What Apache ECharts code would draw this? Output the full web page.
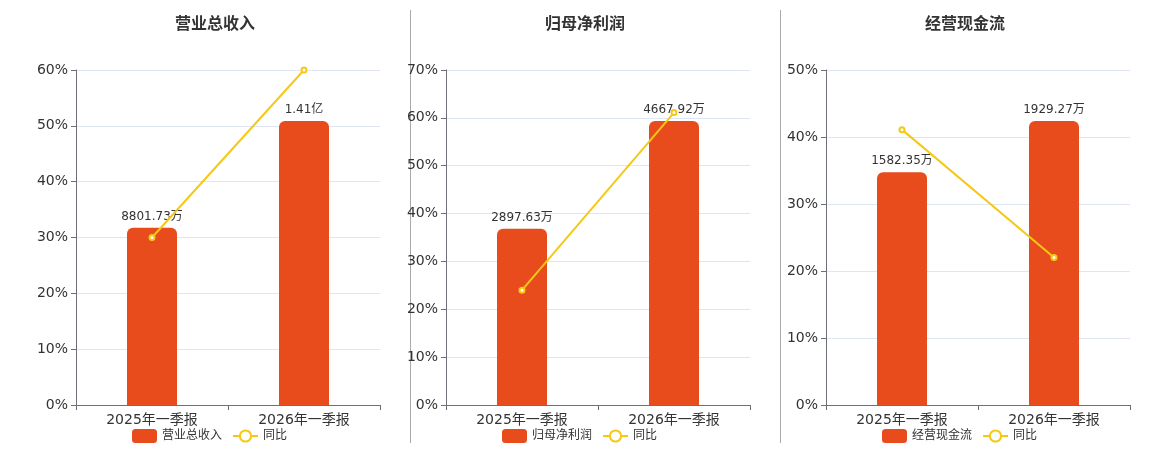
<!DOCTYPE html>
<html>
<head>
<meta charset="utf-8">
<script src="https://cdn.jsdelivr.net/npm/echarts@6/dist/echarts.min.js"></script>
<style>
  html, body { margin: 0; padding: 0; background: #fff; }
  #chart { width: 1160px; height: 450px; }
</style>
</head>
<body>
<div id="chart"></div>
<script>
// 报告期
var periods = ['2025年一季报', '2026年一季报'];
// 三个面板标题
var titles = ['营业总收入', '归母净利润', '经营现金流'];
// 柱子数值(单位:万)
var revenue = [8801.73, 14100];
var netProfit = [2897.63, 4667.92];
var cashFlow = [1582.35, 1929.27];
// 同比(%)
var revenueYoy = [30, 60];
var netProfitYoy = [24, 61.1];
var cashFlowYoy = [41.1, 22];
// 左轴最大值
var yoyMax = [60, 70, 50];

var barColor = '#E84B1C';
var lineColor = '#F5C816';

var barData = [revenue, netProfit, cashFlow];
var lineData = [revenueYoy, netProfitYoy, cashFlowYoy];

// 面板位置
var gridLeft = [76, 446, 826];
var panelCenter = [210, 580, 960];

function fmtAmount(v) {
  if (v >= 10000) return (v / 10000).toFixed(2) + '亿';
  return v.toFixed(2) + '万';
}

var myChart = echarts.init(document.getElementById('chart'));

var title = [], legend = [], grid = [], xAxis = [], yAxis = [], series = [];
titles.forEach(function (name, i) {
  title.push({
    text: name,
    left: panelCenter[i],
    textAlign: 'center',
    top: 12,
    textStyle: { fontSize: 16, fontWeight: 'bold', color: '#333' }
  });
  legend.push({
    data: [name, '同比'],
    left: panelCenter[i] - 83,
    top: 424,
    itemWidth: 25,
    itemHeight: 14,
    itemGap: 10,
    textStyle: { fontSize: 12, color: '#333' }
  });
  grid.push({ left: gridLeft[i], width: 304, top: 70, height: 335 });
  xAxis.push({
    type: 'category',
    gridIndex: i,
    data: periods,
    axisLine: { lineStyle: { color: '#6E7079' } },
    axisTick: { show: true },
    axisLabel: { fontSize: 14, color: '#333', margin: 8 }
  });
  yAxis.push({
    type: 'value',
    gridIndex: i,
    min: 0,
    max: yoyMax[i],
    interval: 10,
    axisLine: { show: true, lineStyle: { color: '#6E7079' } },
    axisTick: { show: true },
    axisLabel: { formatter: '{value}%', fontSize: 14, color: '#333' },
    splitLine: { lineStyle: { color: '#E0E6F1' } }
  });
  yAxis.push({
    type: 'value',
    gridIndex: i,
    min: 0,
    max: function (v) { return v.max * 1.18; },
    show: false,
    splitLine: { show: false }
  });
  series.push({
    name: name,
    type: 'bar',
    xAxisIndex: i,
    yAxisIndex: i * 2 + 1,
    data: barData[i],
    barWidth: 50,
    itemStyle: { color: barColor, borderRadius: [6, 6, 0, 0] },
    label: {
      show: true,
      position: 'top',
      color: '#333',
      fontSize: 12,
      formatter: function (p) { return fmtAmount(p.value); }
    }
  });
  series.push({
    name: '同比',
    type: 'line',
    xAxisIndex: i,
    yAxisIndex: i * 2,
    data: lineData[i],
    symbol: 'emptyCircle',
    symbolSize: 5,
    z: 5,
    itemStyle: { color: lineColor },
    lineStyle: { color: lineColor, width: 2 }
  });
});

var option = {
  animation: false,
  textStyle: { fontFamily: 'DejaVu Sans, Noto Sans CJK SC, sans-serif' },
  title: title,
  legend: legend,
  grid: grid,
  xAxis: xAxis,
  yAxis: yAxis,
  series: series,
  graphic: [
    { type: 'line', shape: { x1: 410.5, y1: 10, x2: 410.5, y2: 443 }, style: { stroke: '#aaa', lineWidth: 1 } },
    { type: 'line', shape: { x1: 780.5, y1: 10, x2: 780.5, y2: 443 }, style: { stroke: '#aaa', lineWidth: 1 } }
  ]
};
myChart.setOption(option);
</script>
</body>
</html>
